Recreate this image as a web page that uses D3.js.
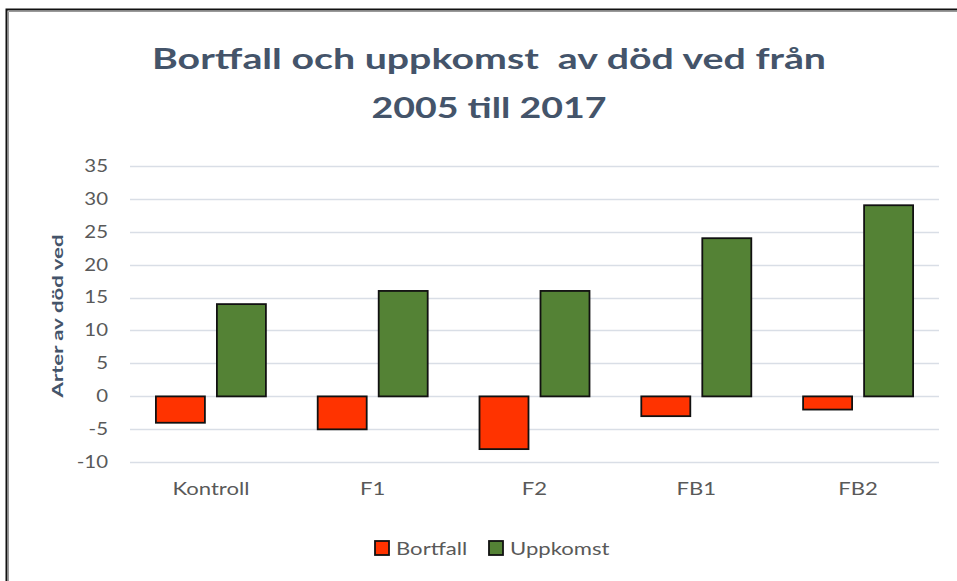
<!DOCTYPE html>
<html>
<head>
<meta charset="utf-8">
<script src="https://cdn.jsdelivr.net/npm/d3@7"></script>
<style>
  body { margin: 0; background: #fff; }
  text { font-family: Lato, "Open Sans", sans-serif; white-space: pre; }
</style>
</head>
<body>
<div id="chart"></div>
<script>
// data
var categories = ["Kontroll", "F1", "F2", "FB1", "FB2"];
var seriesNames = ["Bortfall", "Uppkomst"];
var bortfall = [-4, -5, -8, -3, -2];
var uppkomst = [14, 16, 16, 24, 29];
var yTicks = [-10, -5, 0, 5, 10, 15, 20, 25, 30, 35];
var colors = ["#FF3300", "#548235"];

var W = 957, H = 581;
var plot = {left: 130, right: 939, top: 165.7, bottom: 462.3};

//the reference text is wider than our fonts, stretch it horizontally
var stretch = function(sel, k) {
    sel.each(function() {
        var len = this.getComputedTextLength();
        d3.select(this)
            .attr("textLength", len * k)
            .attr("lengthAdjust", "spacingAndGlyphs");
    });
};

var svg = d3.select("#chart").append("svg")
    .attr("width", W)
    .attr("height", H);

svg.append("rect").attr("width", W).attr("height", H).attr("fill", "#fff");

// frame (only left and top edges visible)
svg.append("path")
    .attr("d", "M6.5," + H + "V9.5H" + W)
    .attr("fill", "none")
    .attr("stroke", "#111")
    .attr("stroke-width", 2);
svg.append("path")
    .attr("d", "M8.5," + H + "V11.5H" + W)
    .attr("fill", "none")
    .attr("stroke", "#999")
    .attr("stroke-width", 1);

//scales
var x = d3.scaleBand().domain(categories).range([plot.left, plot.right]);
var y = d3.scaleLinear().domain([-10, 35]).range([plot.bottom, plot.top]);

// gridlines
svg.append("g")
    .selectAll("line")
    .data(yTicks)
    .enter().append("line")
    .attr("x1", plot.left)
    .attr("x2", plot.right)
    .attr("y1", function(d) { return Math.round(y(d)) + 0.5; })
    .attr("y2", function(d) { return Math.round(y(d)) + 0.5; })
    .attr("stroke", "#D9DEE6")
    .attr("stroke-width", 1.5);

// y axis labels (plain hyphen for negatives, like the original)
var yAxis = svg.append("g")
    .attr("transform", "translate(" + plot.left + ",0)")
    .call(d3.axisLeft(y).tickValues(yTicks).tickSize(0).tickPadding(22)
        .tickFormat(function(d) { return String(d); }));
yAxis.select(".domain").remove();
yAxis.selectAll("text")
    .attr("fill", "#595959")
    .style("font-size", "17px")
    .style("font-family", "Lato, 'Open Sans', sans-serif")
    .call(stretch, 1.2);

// x axis labels
var xAxis = svg.append("g")
    .attr("transform", "translate(0," + plot.bottom + ")")
    .call(d3.axisBottom(x).tickSize(0).tickPadding(21));
xAxis.select(".domain").remove();
xAxis.selectAll("text")
    .attr("fill", "#595959")
    .style("font-size", "17px")
    .style("font-family", "Lato, 'Open Sans', sans-serif")
    .call(stretch, 1.3);

// bars
var barW = 49, gap = 12;
var seriesData = [bortfall, uppkomst];
seriesData.forEach(function(vals, s) {
    svg.append("g")
        .selectAll("rect")
        .data(vals)
        .enter().append("rect")
        .attr("x", function(d, i) {
            var c = x(categories[i]) + x.bandwidth() / 2;
            return s === 0 ? c - gap / 2 - barW : c + gap / 2;
        })
        .attr("y", function(d) { return y(Math.max(0, d)); })
        .attr("width", barW)
        .attr("height", function(d) { return Math.abs(y(d) - y(0)); })
        .attr("fill", colors[s])
        .attr("stroke", "#111")
        .attr("stroke-width", 1.8);
});

// title
var title = svg.append("text")
    .attr("text-anchor", "middle")
    .attr("fill", "#44546A")
    .style("font-size", "29px")
    .style("font-weight", "bold");
title.append("tspan").attr("x", 489).attr("y", 69)
    .attr("textLength", 674).attr("lengthAdjust", "spacingAndGlyphs")
    .text("Bortfall och uppkomst  av död ved från");
title.append("tspan").attr("x", 489).attr("y", 118)
    .attr("textLength", 235).attr("lengthAdjust", "spacingAndGlyphs")
    .text("2005 till 2017");

// y axis title
svg.append("text")
    .attr("transform", "translate(63,316) rotate(-90)")
    .attr("text-anchor", "middle")
    .attr("fill", "#44546A")
    .style("font-size", "16px")
    .style("font-weight", "bold")
    .attr("textLength", 163)
    .attr("lengthAdjust", "spacingAndGlyphs")
    .text("Arter av död ved");

// legend
var legendX = [375, 489];
var legend = svg.append("g")
    .selectAll("g")
    .data(seriesNames)
    .enter().append("g")
    .attr("transform", function(d, i) { return "translate(" + legendX[i] + ",541)"; });
legend.append("rect")
    .attr("width", 14)
    .attr("height", 14)
    .attr("fill", function(d, i) { return colors[i]; })
    .attr("stroke", "#111")
    .attr("stroke-width", 1.8);
legend.append("text")
    .attr("x", 21)
    .attr("y", 14)
    .attr("fill", "#595959")
    .style("font-size", "17px")
    .text(function(d) { return d; })
    .call(stretch, 1.3);
</script>
</body>
</html>
